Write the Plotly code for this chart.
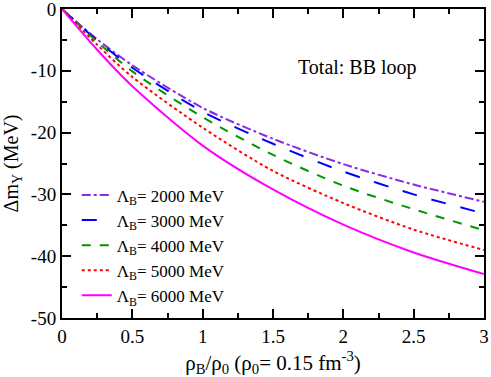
import plotly.graph_objects as go

FONT = "Times New Roman, Liberation Serif, serif"

# data
rho = [0, 0.25, 0.5, 1.0, 1.5, 2.0, 2.5, 3.0]
dm_2000 = [0, -4.9, -9.1, -16.0, -21.0, -25.1, -28.4, -31.2]
dm_3000 = [0, -5.1, -9.5, -16.6, -21.8, -26.3, -30.0, -33.1]
dm_4000 = [0, -5.3, -10.1, -17.5, -23.6, -28.6, -32.4, -35.8]
dm_5000 = [0, -5.8, -11.0, -19.2, -26.2, -31.4, -35.7, -39.0]
dm_6000 = [0, -6.6, -12.5, -22.1, -29.2, -34.9, -39.4, -42.9]

x_ticks = [0, 0.5, 1, 1.5, 2, 2.5, 3]
x_labels = ["0", "0.5", "1", "1.5", "2", "2.5", "3"]
y_ticks = [0, -10, -20, -30, -40, -50]
y_labels = ["0", "-10", "-20", "-30", "-40", "-50"]

series = [
    ("2000", dm_2000, "rgb(138,43,226)", "dashdot"),
    ("3000", dm_3000, "rgb(0,0,255)", "longdash"),
    ("4000", dm_4000, "rgb(0,150,0)", "dash"),
    ("5000", dm_5000, "rgb(255,0,0)", "dot"),
    ("6000", dm_6000, "rgb(255,0,255)", "solid"),
]

fig = go.Figure()
for cutoff, vals, color, dash in series:
    fig.add_trace(
        go.Scatter(
            x=rho,
            y=vals,
            mode="lines",
            name=f"Λ<sub>B</sub>= {cutoff} MeV",
            line={"color": color, "dash": dash, "width": 2, "shape": "spline", "smoothing": 0.8},
        )
    )

axis_common = dict(
    showline=True,
    linecolor="black",
    linewidth=2,
    mirror="allticks",
    ticks="inside",
    ticklen=9,
    tickwidth=2,
    tickcolor="black",
    showgrid=False,
    zeroline=False,
    automargin=False,
    ticklabeloverflow="allow",
    tickfont={"family": FONT, "size": 19, "color": "black"},
)
minor = {"ticks": "inside", "ticklen": 5, "tickwidth": 2, "tickcolor": "black", "showgrid": False}

fig.update_layout(
    template="simple_white",
    width=491,
    height=377,
    paper_bgcolor="white",
    plot_bgcolor="white",
    margin={"l": 62, "r": 7, "t": 9, "b": 59},
    font={"family": FONT, "color": "black"},
    xaxis=dict(
        axis_common,
        range=[0, 3],
        tickvals=x_ticks,
        ticktext=x_labels,
        minor=dict(minor, dtick=0.25),
        title={"text": "ρ<sub>B</sub>/ρ<sub>0</sub> (ρ<sub>0</sub>= 0.15 fm<sup>-3</sup>)",
               "font": {"family": FONT, "size": 21}},
    ),
    yaxis=dict(
        axis_common,
        range=[-50, 0],
        tickvals=y_ticks,
        ticktext=y_labels,
        minor=dict(minor, dtick=5),
        title={"text": "Δm<sub>Y</sub> (MeV)", "font": {"family": FONT, "size": 20}},
    ),
    legend={
        "x": 0.035,
        "y": 0.455,
        "xanchor": "left",
        "yanchor": "top",
        "bgcolor": "rgba(0,0,0,0)",
        "font": {"family": FONT, "size": 17},
        "tracegroupgap": 0,
        "itemwidth": 30,
    },
    annotations=[
        dict(
            text="Total: BB loop",
            x=0.845,
            y=0.81,
            xref="paper",
            yref="paper",
            xanchor="right",
            yanchor="middle",
            showarrow=False,
            font={"family": FONT, "size": 20, "color": "black"},
        )
    ],
)

# the page body has a default 8px margin; drop it so the figure sits at the corner
fig.write_html(
    "out.html",
    config={"displayModeBar": False},
    post_script="document.body.style.margin='0';",
)
